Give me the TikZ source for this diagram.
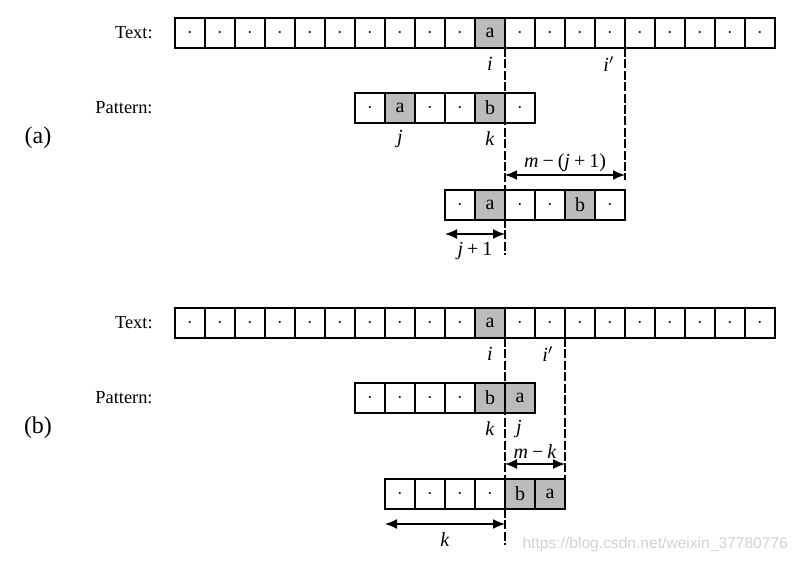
\documentclass[tikz,border=0pt]{standalone}
\usepackage{fontspec}
\setmainfont{Liberation Serif}
\newfontfamily\markfont{Liberation Sans}
\usetikzlibrary{arrows.meta}
\definecolor{kmpGray}{HTML}{BBBBBB}
\definecolor{kmpInk}{HTML}{000000}
\definecolor{kmpMark}{HTML}{D2D2D2}
\newcommand\dotc{$\cdot$}
\newcommand\vr[1]{\textit{#1}}
\newcommand\op[1]{\hspace{2pt}#1\hspace{2pt}}
\tikzset{
  kmp cell/.style={draw=kmpInk, line width=0.75pt, minimum size=15pt, inner sep=0pt, outer sep=0pt, font=\fontsize{10}{12}\selectfont},
  kmp guide/.style={draw=kmpInk, line width=0.75pt, dash pattern=on 4.5pt off 1.2pt},
  kmp dim/.style={draw=kmpInk, line width=0.75pt, {Latex[length=6pt,width=5pt]}-{Latex[length=6pt,width=5pt]}},
  kmp label/.style={font=\fontsize{9.2}{11}\selectfont, anchor=east, inner sep=0pt},
  kmp index/.style={font=\fontsize{10}{12}\selectfont, inner sep=1pt},
  kmp part/.style={font=\fontsize{12}{14}\selectfont},
  kmp mark/.style={font=\markfont\fontsize{7.8}{9}\selectfont, text=kmpMark, anchor=east},
}

\begin{document}
\begin{tikzpicture}[x=0.5pt, y=-0.5pt]
  \useasboundingbox (0,0) rectangle (804,563);

  % (a): mismatch at b, last a of pattern at j
  \node[kmp part] (partA) at (38,138) {(a)};
  \node[kmp label] (textA) at (153,33) {Text:};
  \foreach \n in {1,...,10,12,13,...,20} {
    \node[kmp cell] (ta\n) at ({160+30*\n},33) {\dotc};
  }
  \node[kmp cell, fill=kmpGray] (ta11) at (490,33) {a};
  \node[kmp index] (iA) at (490,64) {\vr{i}};
  \node[kmp index] (ipA) at (609,64) {\vr{i}$'$};

  \node[kmp label] (patA) at (153,108) {Pattern:};
  \foreach \c/\f [count=\n] in {\dotc/white, a/kmpGray, \dotc/white, \dotc/white, b/kmpGray, \dotc/white} {
    \node[kmp cell, fill=\f] (pa\n) at ({340+30*\n},108) {\c};
  }
  \node[kmp index] (jA) at (400,139) {\vr{j}};
  \node[kmp index] (kA) at (490,139) {\vr{k}};

  \foreach \c/\f [count=\n] in {\dotc/white, a/kmpGray, \dotc/white, \dotc/white, b/kmpGray, \dotc/white} {
    \node[kmp cell, fill=\f] (sa\n) at ({430+30*\n},205) {\c};
  }

  \coordinate (gA1) at (505,255);
  \coordinate (gA2) at (625,180);
  \draw[kmp guide] (ta11.south east) -- (gA1);
  \draw[kmp guide] (ta15.south east) -- (gA2);

  \coordinate (dA1) at (505,175);
  \coordinate (dA2) at (625,175);
  \draw[kmp dim] (dA1) -- node[kmp index, above=0pt] (mA) {\vr{m}\op{−}(\vr{j}\op{+}1)} (dA2);
  \coordinate (dA3) at (445,234);
  \coordinate (dA4) at (505,234);
  \draw[kmp dim] (dA3) -- node[kmp index, below=3pt] (jpA) {\vr{j}\op{+}1} (dA4);

  % (b): mismatch at b, no a on its left
  \node[kmp part] (partB) at (38,428) {(b)};
  \node[kmp label] (textB) at (153,323) {Text:};
  \foreach \n in {1,...,10,12,13,...,20} {
    \node[kmp cell] (tb\n) at ({160+30*\n},323) {\dotc};
  }
  \node[kmp cell, fill=kmpGray] (tb11) at (490,323) {a};
  \node[kmp index] (iB) at (490,354) {\vr{i}};
  \node[kmp index] (ipB) at (548,354) {\vr{i}$'$};

  \node[kmp label] (patB) at (153,398) {Pattern:};
  \foreach \c/\f [count=\n] in {\dotc/white, \dotc/white, \dotc/white, \dotc/white, b/kmpGray, a/kmpGray} {
    \node[kmp cell, fill=\f] (pb\n) at ({340+30*\n},398) {\c};
  }
  \node[kmp index] (kB) at (490,429) {\vr{k}};
  \node[kmp index] (jB) at (519,429) {\vr{j}};

  \foreach \c/\f [count=\n] in {\dotc/white, \dotc/white, \dotc/white, \dotc/white, b/kmpGray, a/kmpGray} {
    \node[kmp cell, fill=\f] (sb\n) at ({370+30*\n},494) {\c};
  }

  \coordinate (gB1) at (505,545);
  \coordinate (gB2) at (565,479);
  \draw[kmp guide] (tb11.south east) -- (gB1);
  \draw[kmp guide] (tb13.south east) -- (gB2);

  \coordinate (dB1) at (505,464);
  \coordinate (dB2) at (565,464);
  \draw[kmp dim] (dB1) -- node[kmp index, above=1.5pt] (mB) {\vr{m}\op{−}\vr{k}} (dB2);
  \coordinate (dB3) at (385,524);
  \coordinate (dB4) at (505,524);
  \draw[kmp dim] (dB3) -- node[kmp index, below=3pt] (kkB) {\vr{k}} (dB4);

  \node[kmp mark] (mark) at (795,544) {https://blog.csdn.net/weixin\_37780776};
\end{tikzpicture}
\end{document}
